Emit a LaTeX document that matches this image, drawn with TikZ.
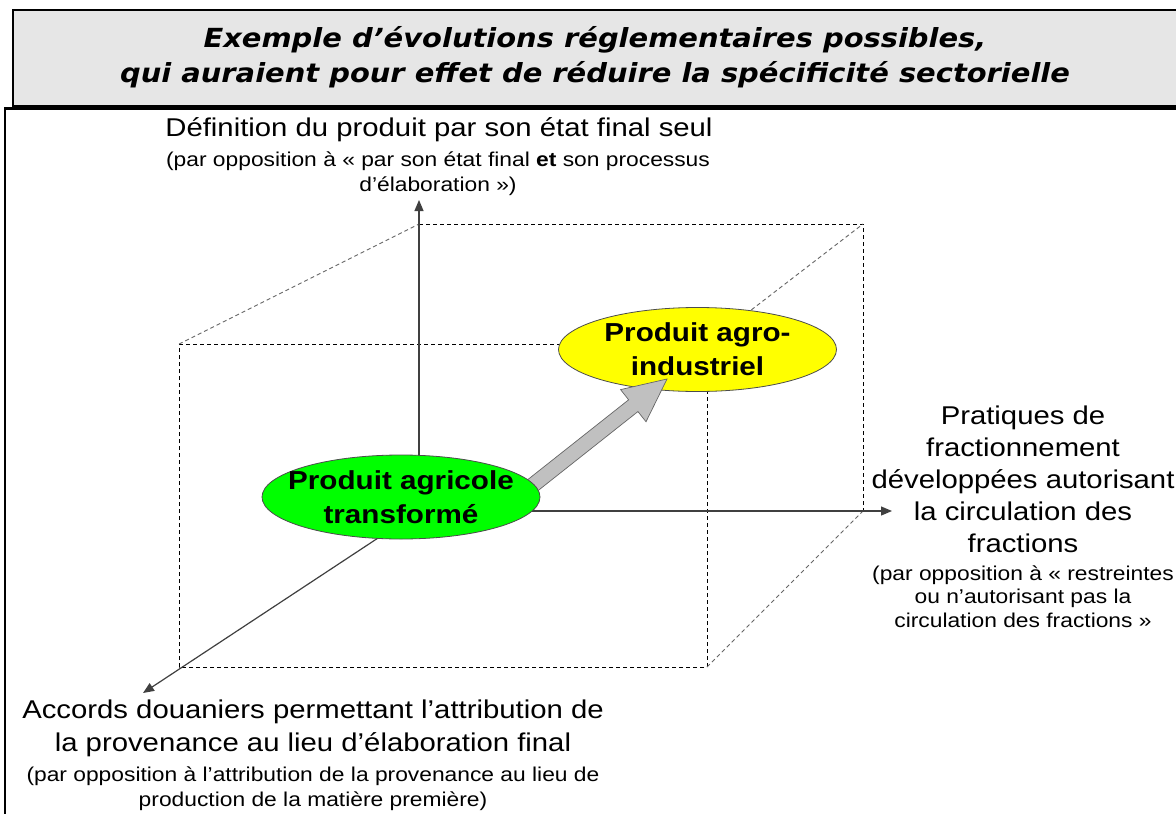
\documentclass[tikz,border=0pt]{standalone}
\usepackage{fontspec}
\setmainfont{Liberation Sans}[FakeStretch=1.14]
\newfontfamily\titlefont{DejaVu Sans}[FakeStretch=1.1]
\usetikzlibrary{calc,arrows.meta,shapes.geometric}
\definecolor{titlegray}{HTML}{E6E6E6}
\definecolor{agreen}{HTML}{00FF00}
\definecolor{ayellow}{HTML}{FFFF00}
\definecolor{arrowgray}{HTML}{C0C0C0}
\definecolor{axisgray}{HTML}{404040}
\begin{document}
\begin{tikzpicture}[x=1pt,y=-1pt,
  axis/.style={draw=axisgray, line width=1.2pt, -{Triangle[length=11pt,width=9pt]}},
  hid/.style={draw=black, line width=0.9pt, dash pattern=on 4pt off 3pt},
  hidg/.style={draw=black!60, line width=0.9pt, dash pattern=on 4pt off 3pt},
  big/.style={font=\fontsize{25.7}{32}\selectfont, align=center, inner sep=0pt},
  small/.style={font=\fontsize{20}{24.5}\selectfont, align=center, inner sep=0pt},
  blob/.style={ellipse, draw=black!70, line width=0.8pt, inner sep=0pt, minimum width=278pt, minimum height=84pt},
  blobtext/.style={align=center, inner sep=0pt, font=\bfseries\fontsize{26}{34}\selectfont},
  titletext/.style={font=\titlefont\bfseries\itshape\fontsize{26.3}{30}\selectfont, inner sep=0pt}
]
\useasboundingbox (0,0) rectangle (1176,814);
\fill[white] (0,0) rectangle (1176,814);
% frames
\draw[line width=2.5pt, fill=titlegray] (13,10) rectangle (1190,106);
\draw[line width=2.5pt] (5,830) -- (5,108.5) -- (1190,108.5);
\node[titletext] (t1) at (595,40) {Exemple d’évolutions réglementaires possibles,};
\node[titletext] (t2) at (595,75) {qui auraient pour effet de réduire la spécificité sectorielle};
% cube
\coordinate (F1) at (179,344);
\coordinate (F2) at (707,344);
\coordinate (F3) at (707,667);
\coordinate (F4) at (179,667);
\coordinate (B1) at (419,224);
\coordinate (B2) at (863,224);
\coordinate (B3) at (863,511);
\draw[hid] (F1) -- (F2) -- (F3) -- (F4) -- cycle;
\draw[hid] (B1) -- (B2) -- (B3);
\draw[hidg] (F1) -- (B1);
\draw[hidg] (F2) -- (B2);
\draw[hidg] (F3) -- (B3);
% axes
\coordinate (O) at (419,511);
\coordinate (Ytip) at (419,200);
\coordinate (Xtip) at (892,511);
\coordinate (Ztip) at (143,693);
\draw[axis] (O) -- (Ytip);
\draw[axis] (O) -- (Xtip);
\draw[axis] (O) -- (Ztip);
% yellow
\node[blob, fill=ayellow] (agro) at (697.5,349.5) {};
\node[blobtext] (agrotext) at (agro.center) {Produit agro-\\industriel};
% big arrow
\coordinate (S) at (528,489);
\coordinate (T) at (667,379);
\coordinate (H) at ($(T)!43pt!(S)$);
\filldraw[fill=arrowgray, draw=black!60, line width=0.7pt]
  ($(S)!7.5pt!90:(T)$) -- ($(H)!7.5pt!-90:(S)$) -- ($(H)!20.5pt!-90:(S)$) -- (T)
  -- ($(H)!20.5pt!90:(S)$) -- ($(H)!7.5pt!90:(S)$) -- ($(S)!7.5pt!-90:(T)$) -- cycle;
% green
\node[blob, fill=agreen] (agri) at (401,497) {};
\node[blobtext] (agritext) at (agri.center) {Produit agricole\\transformé};
% labels
\node[big] (ylab) at (439,130) {Définition du produit par son état final seul};
\node[small] (ylab2) at (438,173.5) {(par opposition à « par son état final \textbf{et} son processus\\d’élaboration »)};
\node[big] (xlab) at (1023,479.5) {Pratiques de\\fractionnement\\développées autorisant\\la circulation des\\fractions};
\node[small, font=\fontsize{20}{23.5}\selectfont] (xlab2) at (1023,596.5) {(par opposition à « restreintes\\ou n’autorisant pas la\\circulation des fractions »};
\node[big, font=\fontsize{25.7}{33}\selectfont] (zlab) at (313,728.5) {Accords douaniers permettant l’attribution de\\la provenance au lieu d’élaboration final};
\node[small, font=\fontsize{20}{25}\selectfont] (zlab2) at (313,788.5) {(par opposition à l’attribution de la provenance au lieu de\\production de la matière première)};
\end{tikzpicture}
\end{document}
